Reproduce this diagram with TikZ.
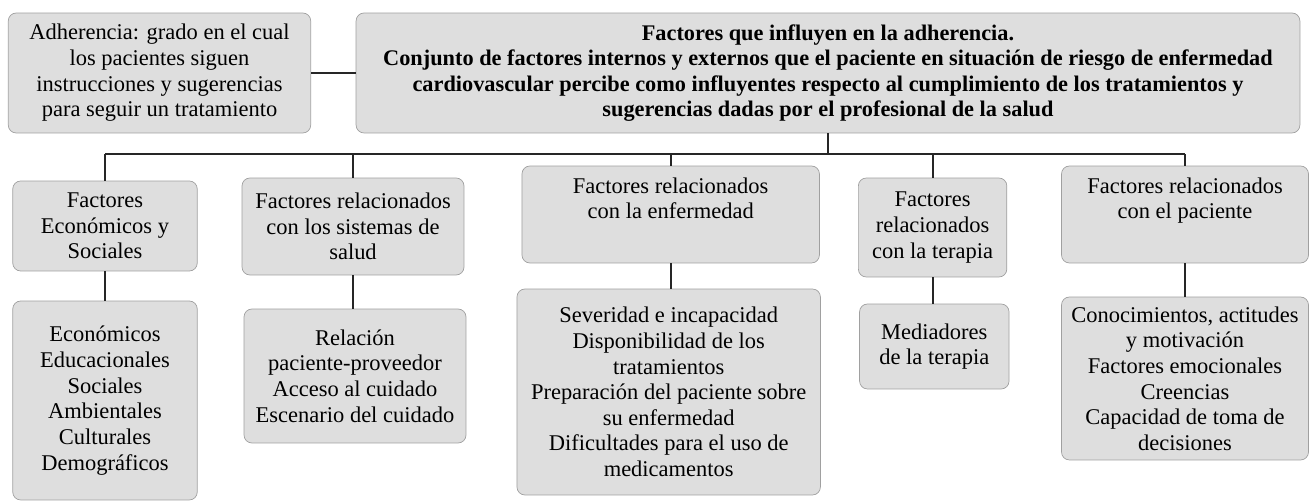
\documentclass[tikz,border=0pt]{standalone}
\usepackage{fontspec}
\setmainfont{Liberation Serif}
\usepackage{tikz}
\definecolor{cajagris}{RGB}{222,222,222}
\definecolor{bordegris}{RGB}{160,160,160}

\begin{document}
\begin{tikzpicture}[x=0.02cm,y=-0.02cm,
	every node/.style={draw=bordegris,fill=cajagris,rounded corners=4.5pt,align=center,inner sep=2pt,font=\fontsize{12.8}{14.6}\selectfont},
	linea/.style={line width=1.1pt,black!85}]
\useasboundingbox (0,0) rectangle (1309,502);

%cajas superiores
\node[minimum width=6.05cm,minimum height=2.4cm] (adh) at (159.5,73) {Adherencia: grado en el cual\\los pacientes siguen\\instrucciones y sugerencias\\para seguir un tratamiento};
\node[minimum width=18.88cm,minimum height=2.4cm,font=\fontsize{12.7}{14.5}\selectfont\bfseries] (titulo) at (828,73) {Factores que influyen en la adherencia.\\Conjunto de factores internos y externos que el paciente en situación de riesgo de enfermedad\\cardiovascular percibe como influyentes respecto al cumplimiento de los tratamientos y\\sugerencias dadas por el profesional de la salud};

%factores
\node[minimum width=3.69cm,minimum height=1.8cm] (econ) at (105,226) {Factores\\Económicos y\\Sociales};
\node[minimum width=4.44cm,minimum height=1.94cm] (salud) at (353,226.5) {Factores relacionados\\con los sistemas de\\salud};
\node[minimum width=5.95cm,minimum height=1.94cm] (enf) at (670.7,214.5) {Factores relacionados\\con la enfermedad\\[4pt]};
\node[minimum width=2.97cm,minimum height=1.98cm] (terapia) at (932.6,227.5) {Factores\\relacionados\\con la terapia};
\node[minimum width=4.94cm,minimum height=1.94cm] (paciente) at (1185,214.5) {Factores relacionados\\con el paciente\\[4pt]};

%listas
\node[minimum width=3.69cm,minimum height=3.98cm] (econlista) at (105,400.5) {Económicos\\Educacionales\\Sociales\\Ambientales\\Culturales\\Demográficos};
\node[minimum width=4.44cm,minimum height=2.68cm] (saludlista) at (355,376) {Relación\\paciente-proveedor\\Acceso al cuidado\\Escenario del cuidado};
\node[minimum width=6.07cm,minimum height=4.12cm] (enflista) at (668.7,392) {Severidad e incapacidad\\Disponibilidad de los\\tratamientos\\Preparación del paciente sobre\\su enfermedad\\Dificultades para el uso de\\medicamentos};
\node[minimum width=2.99cm,minimum height=1.7cm] (terapialista) at (934.3,346.5) {Mediadores\\de la terapia};
\node[minimum width=4.94cm,minimum height=3.26cm] (pacientelista) at (1185,378.5) {Conocimientos, actitudes\\y motivación\\Factores emocionales\\Creencias\\Capacidad de toma de\\decisiones};

%edges
\coordinate (bus) at (828,154);
\draw[linea] (adh) -- (titulo);
\draw[linea] (titulo.south) -- (bus);
\draw[linea] (econ.north |- bus) -- (paciente.north |- bus);
\foreach \n in {econ,salud,enf,terapia,paciente}{
	\draw[linea] (\n.north) -- (\n.north |- bus);
	\draw[linea] (\n.south) -- (\n.south |- \n lista.north);
}

\end{tikzpicture}
\end{document}
